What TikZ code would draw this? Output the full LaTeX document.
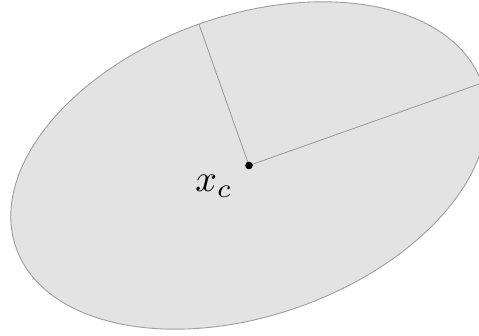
\documentclass[tikz,border=0pt]{standalone}
\begin{document}
\begin{tikzpicture}[x=1pt,y=-1pt,
  ell/.style={fill=black!11,draw=black!38,line width=0.9pt},
  axisline/.style={draw=black!40,line width=0.8pt},
  lbl/.style={font=\normalsize,inner sep=0pt,scale=3.8}]
\useasboundingbox (0,0) rectangle (479,335);
\clip (0,0) rectangle (479,335);
\coordinate (c) at (249,165.5);
\draw[ell,rotate around={19.5:(c)}] (c) ellipse [x radius=247, y radius=150];
\path (c) ++(-19.5:247) coordinate (ma);
\path (c) ++(-109.5:150) coordinate (mi);
\draw[axisline] (c) -- (ma);
\draw[axisline] (c) -- (mi);
\fill[black] (c) circle (3.8);
\node[lbl] (xc) at (214,186) {$x_c$};
\end{tikzpicture}
\end{document}
